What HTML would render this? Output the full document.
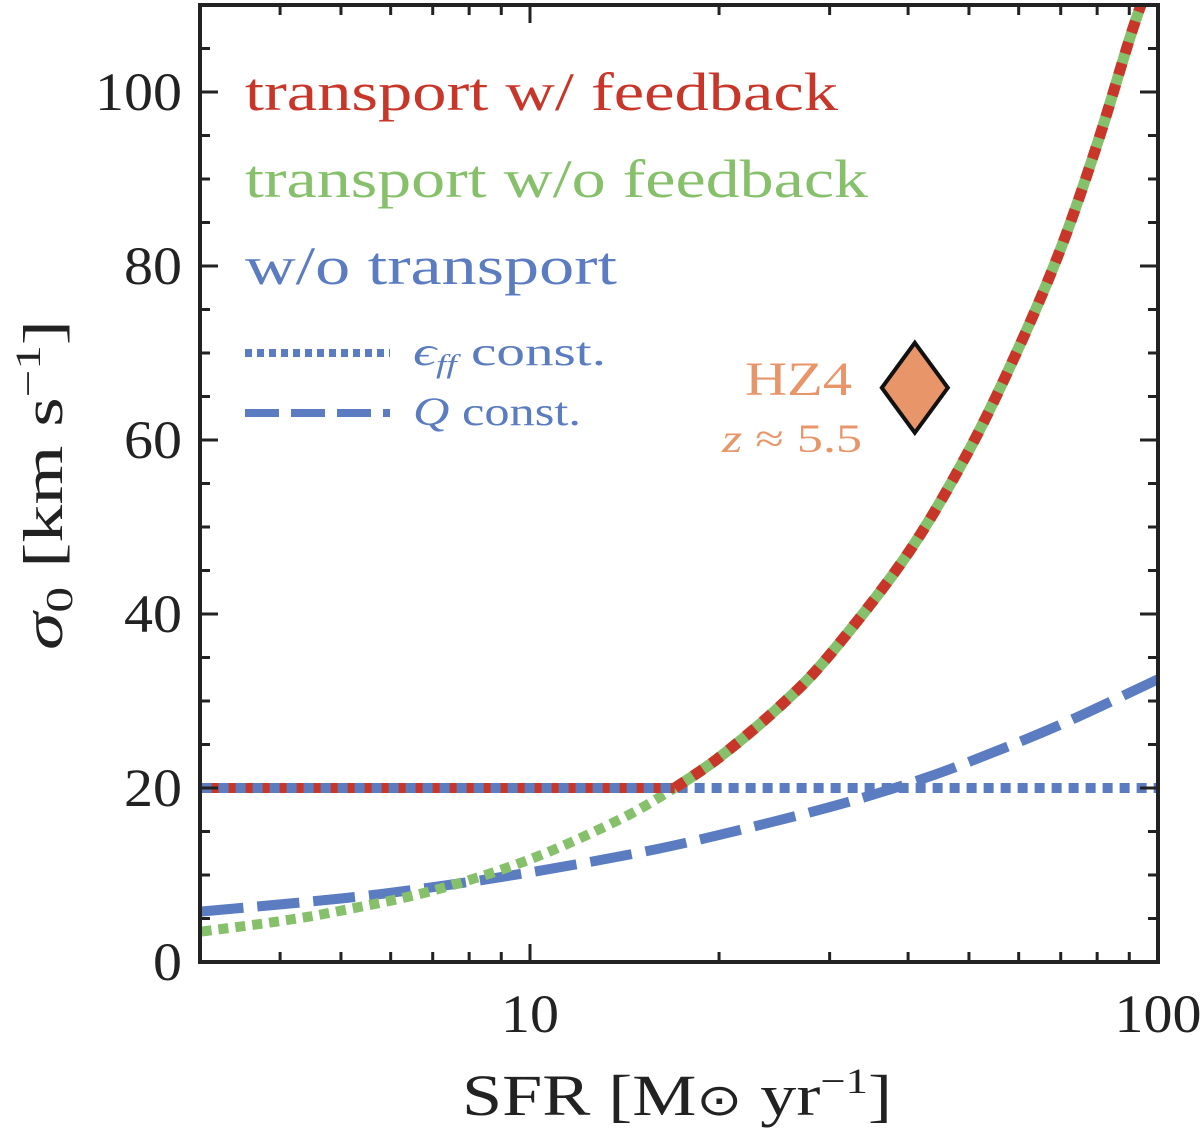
<!DOCTYPE html>
<html><head><meta charset="utf-8"><style>
body{margin:0;background:#fff;}
svg{display:block;font-family:"Liberation Serif",serif;}
</style></head><body>
<svg id="chart" width="1200" height="1133" viewBox="0 0 1200 1133">
<defs><clipPath id="clip"><rect x="200" y="5" width="958" height="957"/></clipPath></defs>
<g id="curves" clip-path="url(#clip)"></g>
<g id="axes"></g>
<g>
<text x="245" y="110" font-size="54" fill="#c8362a" textLength="593" lengthAdjust="spacingAndGlyphs">transport w/ feedback</text>
<text x="245" y="197" font-size="54" fill="#86c06a" textLength="623" lengthAdjust="spacingAndGlyphs">transport w/o feedback</text>
<text x="245" y="284" font-size="54" fill="#5b7cc0" textLength="372" lengthAdjust="spacingAndGlyphs">w/o transport</text>
<line x1="245" y1="353" x2="390" y2="353" stroke="#5b7cc0" stroke-width="8" stroke-dasharray="7 5"/>
<text x="413" y="365" font-size="40" fill="#5b7cc0" textLength="193" lengthAdjust="spacingAndGlyphs"><tspan font-style="italic">ϵ</tspan><tspan font-style="italic" font-size="26" dy="8">ff</tspan><tspan dy="-8"> const.</tspan></text>
<line x1="245" y1="413" x2="390" y2="413" stroke="#5b7cc0" stroke-width="8" stroke-dasharray="34 12"/>
<text x="413" y="425" font-size="40" fill="#5b7cc0" textLength="168" lengthAdjust="spacingAndGlyphs"><tspan font-style="italic">Q</tspan> const.</text>
</g>
<text x="745" y="395" font-size="48" fill="#e8956a" textLength="107" lengthAdjust="spacingAndGlyphs">HZ4</text>
<text x="722" y="452" font-size="40" fill="#e8956a" textLength="140" lengthAdjust="spacingAndGlyphs"><tspan font-style="italic">z</tspan> ≈ 5.5</text>
<text x="462" y="1115" font-size="58" fill="#222" textLength="430" lengthAdjust="spacingAndGlyphs">SFR [M<tspan font-size="44">⊙</tspan> yr<tspan font-size="36" dy="-22">−1</tspan><tspan dy="22">]</tspan></text>
<text transform="translate(62,650) rotate(-90)" font-size="56" fill="#222" textLength="330" lengthAdjust="spacingAndGlyphs"><tspan font-style="italic">σ</tspan><tspan font-size="38" dy="10">0</tspan><tspan dy="-10"> [km s</tspan><tspan font-size="36" dy="-22">−1</tspan><tspan dy="22">]</tspan></text>
</svg>
<script>
const fbSFR=[17,20,25,30,40,50,60,70,80,90,95];
const fbSigma=[20,23.5,29.4,35.3,47,58.8,70.6,82,94,106,111];
const noFbSFR=[3,4,5,7,10,14,17];
const noFbSigma=[3.5,4.7,5.9,8.2,11.8,16.5,20];
const qSFR=[3,5,7,10,15,20,30,40,50,70,100];
const qSigma=[5.8,7.3,8.6,10.3,12.6,14.6,17.8,20.5,23,27.3,32.5];
const effSigma=20;
const hz4=[41,66];
const yTicks=[0,20,40,60,80,100];
const xTicks=[10,100];
const L=200,R=1158,T=5,B=962;
const xs=v=>530+628*Math.log10(v/10);
const ys=v=>962-8.7*v;
const NS="http://www.w3.org/2000/svg";
const cg=document.getElementById('curves'),ag=document.getElementById('axes');
function mk(tag,at,parent){const e=document.createElementNS(NS,tag);for(const k in at)e.setAttribute(k,at[k]);parent.appendChild(e);return e;}
function path(X,Y){const p=X.map((x,i)=>[xs(x),ys(Y[i])]);let d='M'+p[0];for(let i=0;i<p.length-1;i++){const p0=p[i-1]||p[i],p1=p[i],p2=p[i+1],p3=p[i+2]||p2;d+=' C'+(p1[0]+(p2[0]-p0[0])/6)+','+(p1[1]+(p2[1]-p0[1])/6)+' '+(p2[0]-(p3[0]-p1[0])/6)+','+(p2[1]-(p3[1]-p1[1])/6)+' '+p2[0]+','+p2[1];}return d;}
let e;
e=mk('line',{x1:xs(3),x2:xs(100),y1:ys(effSigma),y2:ys(effSigma),stroke:'#5b7cc0','stroke-width':10,'stroke-dasharray':'10 7'},cg);

e=mk('path',{d:path(qSFR,qSigma),fill:'none',stroke:'#5b7cc0','stroke-width':10,'stroke-dasharray':'42 14'},cg);

e=mk('path',{d:path(noFbSFR,noFbSigma),fill:'none',stroke:'#86c06a','stroke-width':10,'stroke-dasharray':'10 7'},cg);

e=mk('line',{x1:xs(3),x2:xs(17),y1:ys(20),y2:ys(20),stroke:'#c8362a','stroke-width':10},cg);

e=mk('line',{x1:xs(3),x2:xs(17),y1:ys(20),y2:ys(20),stroke:'#5b7cc0','stroke-width':10,'stroke-dasharray':'10 7'},cg);

e=mk('path',{d:path(fbSFR,fbSigma),fill:'none',stroke:'#86c06a','stroke-width':11},cg);

e=mk('path',{d:path(fbSFR,fbSigma),fill:'none',stroke:'#c8362a','stroke-width':11,'stroke-dasharray':'12 10'},cg);

const hx=xs(hz4[0]),hy=ys(hz4[1]);
e=mk('polygon',{points:`${hx},${hy-45} ${hx+33},${hy} ${hx},${hy+45} ${hx-33},${hy}`,fill:'#e8956a',stroke:'#111','stroke-width':4},cg);

e=mk('rect',{x:L,y:T,width:R-L,height:B-T,fill:'none',stroke:'#222','stroke-width':4},ag);

for(let v=5;v<110;v+=5){const y=ys(v),len=(v%20===0)?18:10;
 e=mk('line',{x1:L,x2:L+len,y1:y,y2:y,stroke:'#222','stroke-width':3},ag);
 e=mk('line',{x1:R,x2:R-len,y1:y,y2:y,stroke:'#222','stroke-width':3},ag);}
yTicks.forEach(v=>{const s=String(v);e=mk('text',{x:182-29*s.length,y:ys(v)+18,'font-size':54,fill:'#222',textLength:29*s.length,lengthAdjust:'spacingAndGlyphs'},ag);e.textContent=s;
 });
const minors=[4,5,6,7,8,9,20,30,40,50,60,70,80,90];
minors.forEach(v=>{const x=xs(v);
 e=mk('line',{x1:x,x2:x,y1:B,y2:B-10,stroke:'#222','stroke-width':3},ag);
 e=mk('line',{x1:x,x2:x,y1:T,y2:T+10,stroke:'#222','stroke-width':3},ag);});
xTicks.forEach(v=>{const x=xs(v),s=String(v);
 e=mk('line',{x1:x,x2:x,y1:B,y2:B-18,stroke:'#222','stroke-width':3},ag);
 e=mk('line',{x1:x,x2:x,y1:T,y2:T+18,stroke:'#222','stroke-width':3},ag);
 e=mk('text',{x:x-14.5*s.length,y:1032,'font-size':54,fill:'#222',textLength:29*s.length,lengthAdjust:'spacingAndGlyphs'},ag);e.textContent=s;
 });
</script>
</body></html>
